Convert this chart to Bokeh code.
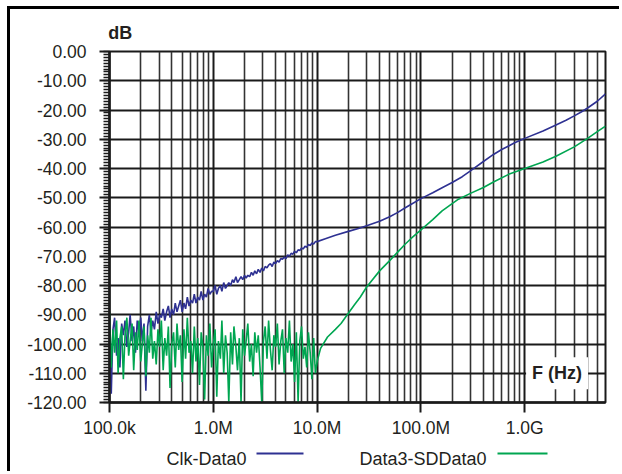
from bokeh.plotting import figure
from bokeh.models import FixedTicker, PrintfTickFormatter, Label, LogAxis, Range1d
from bokeh.layouts import column
from bokeh.core.properties import value
from bokeh.embed import file_html
from bokeh.resources import INLINE

# ---------------- data ----------------
# swept frequencies of the noisy low band (kHz)
f_noise_khz = [100, 104, 108, 112, 117, 121, 126, 131, 136, 141, 147, 153, 158, 165, 171,
               178, 185, 192, 200, 207, 215, 224, 233, 242, 251, 261, 271, 282, 293, 304,
               316, 329, 341, 355, 369, 383, 398, 414, 430, 447, 464, 482, 501, 521, 541,
               562, 584, 607, 631, 656, 681, 708, 736, 764, 794, 825, 858, 891, 926, 962,
               1000, 1040, 1080, 1120, 1170, 1210, 1260, 1310, 1360, 1410, 1470, 1530, 1580,
               1650, 1710, 1780, 1850, 1920, 2000, 2070, 2150, 2240, 2330, 2420, 2510, 2610,
               2710, 2820, 2930, 3040, 3160, 3290, 3410, 3550, 3690, 3830, 3980, 4140, 4300,
               4470, 4640, 4820, 5010, 5210, 5410, 5620, 5840, 6070, 6310, 6560, 6810, 7080,
               7360, 7640, 7940, 8250, 8580, 8910, 9260, 9620, 10000]

clk_noise_db = [-100, -117, -95, -91, -104, -98, -108, -93, -97, -92,
                -101, -96, -90, -99, -94, -103, -92, -96, -91, -99,
                -93, -116, -94, -90, -96, -92, -95, -89, -93, -90,
                -91, -88, -92, -89, -87, -91, -88, -90, -86, -89,
                -87, -85, -89, -86, -88, -84, -87, -85, -86, -83,
                -86, -84, -85, -82, -85, -83, -84, -81, -83, -82,
                -82, -80, -83, -81, -80, -82, -79, -81, -80, -79,
                -80, -78, -79, -77, -79, -78, -77, -78, -76.5, -77.5,
                -76.5, -77, -75.5, -76.5, -75, -76, -74.5, -75.5, -74, -75,
                -73.5, -74, -73, -72.5, -73.5, -72, -72.5, -71.5, -72, -70.8,
                -71, -70.3, -70.8, -69.5, -70, -69, -69.3, -68.3, -68.8, -67.8,
                -68, -67.2, -67.5, -66.6, -66.9, -66, -66.3, -65.5, -65.8, -65, -65]

sd_noise_db = [-89, -108, -95, -103, -92, -110, -98, -94, -112, -97,
               -91, -104, -99, -93, -109, -96, -102, -92, -106, -100,
               -94, -111, -97, -103, -91, -105, -99, -107, -95, -101,
               -92, -109, -98, -104, -94, -115, -100, -96, -108, -93,
               -102, -97, -113, -95, -105, -91, -103, -99, -110, -94,
               -106, -98, -114, -96, -101, -119, -97, -104, -93, -108,
               -100, -95, -118, -99, -105, -92, -110, -97, -103, -120,
               -96, -107, -94, -101, -109, -98, -120, -95, -104, -99,
               -93, -106, -100, -111, -96, -103, -97, -108, -120, -99,
               -94, -105, -92, -102, -109, -97, -101, -93, -107, -99,
               -95, -110, -98, -103, -92, -106, -100, -113, -96, -120,
               -99, -94, -105, -101, -108, -96, -103, -112, -98, -110, -106]

# smooth high band (MHz)
clk_hi_mhz = [12, 15, 20, 25, 30, 40, 50, 60, 70, 80, 100, 130, 160, 200, 250, 300,
              400, 500, 600, 700, 800, 1000, 1500, 2000, 2500, 3000, 3500, 4000, 5000, 6000]
clk_hi_db = [-64, -62.8, -61.5, -60.5, -59.6, -58, -56.5, -55, -53.5, -52.3, -50.3, -48.3,
             -46.6, -44.8, -42.8, -40.8, -37.6, -35.2, -33.5, -32.3, -31.2, -29.7, -27.2,
             -25.1, -23.5, -22, -20.7, -19.4, -17, -14.5]

sd_hi_mhz = [10.8, 12.6, 15, 17, 20, 23, 26, 30, 40, 50, 60, 70, 80, 100, 130, 160, 200,
             230, 300, 400, 500, 700, 1000, 1500, 2000, 3000, 4000, 5000, 6000]
sd_hi_db = [-101.5, -97.6, -95, -93, -89.5, -86.5, -84, -80.5, -75, -71.5, -68.5, -66, -64,
            -61, -57.5, -54.5, -52, -50.5, -48.5, -46.5, -44.6, -42, -40, -37.8, -35.8,
            -32.6, -29.8, -27.4, -25.5]

series_names = ["Clk-Data0", "Data3-SDData0"]
series_colors = ["#2e3192", "#00a651"]

x_tick_hz = [1e5, 1e6, 1e7, 1e8, 1e9]
x_tick_labels = ["100.0k", "1.0M", "10.0M", "100.0M", "1.0G"]
y_ticks = [0, -10, -20, -30, -40, -50, -60, -70, -80, -90, -100, -110, -120]
y_caption, y_caption_at_hz = "dB", 1.27e5
x_caption, x_caption_at = "F (Hz)", (2.05e9, -110)

# ---------------- build ----------------
FONT = "Liberation Sans"
INK = "#231f20"
PAGE_RULE = {"margin-left": "7px", "border-left": "3px solid black"}
OFF = 10            # page rule margin + width, in px
W = 612
H_PLOT, H_LEG = 433, 32
BL, BR, BT, BB = 99, 17, 42, 40

clk_x = [f * 1e3 for f in f_noise_khz] + [f * 1e6 for f in clk_hi_mhz]
clk_y = clk_noise_db + clk_hi_db
sd_x = [f * 1e3 for f in f_noise_khz] + [f * 1e6 for f in sd_hi_mhz]
sd_y = sd_noise_db + sd_hi_db

p = figure(width=W, height=H_PLOT, x_axis_type="log", x_range=(1e5, 6e9),
           y_range=(-120, 0), output_backend="svg", toolbar_location=None)
p.styles = dict(PAGE_RULE, **{"margin-top": "6px", "border-top": "3px solid black"})
p.min_border_left = BL
p.min_border_right = BR
p.min_border_top = BT
p.min_border_bottom = BB
p.background_fill_color = "white"
p.border_fill_color = "white"
p.outline_line_color = "#1a1a1a"
p.outline_line_width = 2

minor_x = [m * t for t in x_tick_hz for m in range(2, 10)]
p.xaxis.ticker = FixedTicker(ticks=x_tick_hz, minor_ticks=minor_x)
p.xaxis.major_label_overrides = {t: lab for t, lab in zip(x_tick_hz, x_tick_labels)}
p.yaxis.ticker = FixedTicker(ticks=y_ticks, minor_ticks=list(range(-120, 1)))
p.yaxis.formatter = PrintfTickFormatter(format="%.2f")

for ax in (p.xaxis[0], p.yaxis[0]):
    ax.axis_line_color = "#1a1a1a"
    ax.axis_line_width = 2.5
    ax.major_tick_line_color = "#1a1a1a"
    ax.major_tick_line_width = 2
    ax.major_tick_in = 0
    ax.major_tick_out = 10
    ax.major_label_text_font = FONT
    ax.major_label_text_font_size = "17.5px"
    ax.major_label_text_color = INK
p.xaxis.minor_tick_line_color = None
p.xaxis.major_label_standoff = 5
p.yaxis.minor_tick_line_color = "#1a1a1a"
p.yaxis.minor_tick_line_width = 1.5
p.yaxis.minor_tick_in = 0
p.yaxis.minor_tick_out = 6
p.yaxis.major_label_standoff = 13

# "dB" caption above the y axis, as the label of a bare top axis
cap_axis = LogAxis(ticker=FixedTicker(ticks=[y_caption_at_hz]),
                   major_label_overrides={y_caption_at_hz: y_caption},
                   axis_line_color=None, major_tick_line_color=None,
                   minor_tick_line_color=None, major_label_standoff=3,
                   major_label_text_font=FONT, major_label_text_font_size="18px",
                   major_label_text_font_style="bold", major_label_text_color=INK)
p.add_layout(cap_axis, "above")

p.xgrid.grid_line_color = "#1a1a1a"
p.xgrid.grid_line_width = 2
p.xgrid.minor_grid_line_color = "#333333"
p.xgrid.minor_grid_line_width = 1.6
p.ygrid.grid_line_color = "#1a1a1a"
p.ygrid.grid_line_width = 2

p.line(clk_x, clk_y, line_color=series_colors[0], line_width=1.6)
p.line(sd_x, sd_y, line_color=series_colors[1], line_width=1.6)

p.add_layout(Label(x=x_caption_at[0], y=x_caption_at[1], text=x_caption,
                   text_align="center", text_baseline="middle", text_font=FONT,
                   text_font_size="18px", text_font_style="bold", text_color=INK,
                   background_fill_color="white", padding=6))

# legend strip under the chart: each name followed by its sample line.
# Its frame is aligned with the chart frame by the column, so its x range is
# expressed in page pixels across that frame.
leg = figure(width=W, height=H_LEG,
             x_range=Range1d(OFF + BL, OFF + W - BR), y_range=Range1d(0, H_LEG),
             output_backend="svg", toolbar_location=None)
leg.styles = PAGE_RULE
leg.min_border_left = BL
leg.min_border_right = BR
leg.min_border_top = 0
leg.min_border_bottom = 0
leg.axis.visible = False
leg.grid.visible = False
leg.outline_line_color = None
leg.background_fill_color = "white"
leg.border_fill_color = "white"
leg_text_x = [166, 359]
leg_line_x0 = [256, 497]
leg_line_x1 = [303, 547]
leg.text(x=leg_text_x, y=[13, 13], text=series_names, text_font=value(FONT),
         text_font_size="18px", text_color=INK, text_baseline="middle")
leg.segment(x0=leg_line_x0, y0=[18, 18], x1=leg_line_x1, y1=[18, 18],
            line_color=series_colors, line_width=2)

open("out.html", "w").write(file_html(column(p, leg, spacing=0), INLINE))
